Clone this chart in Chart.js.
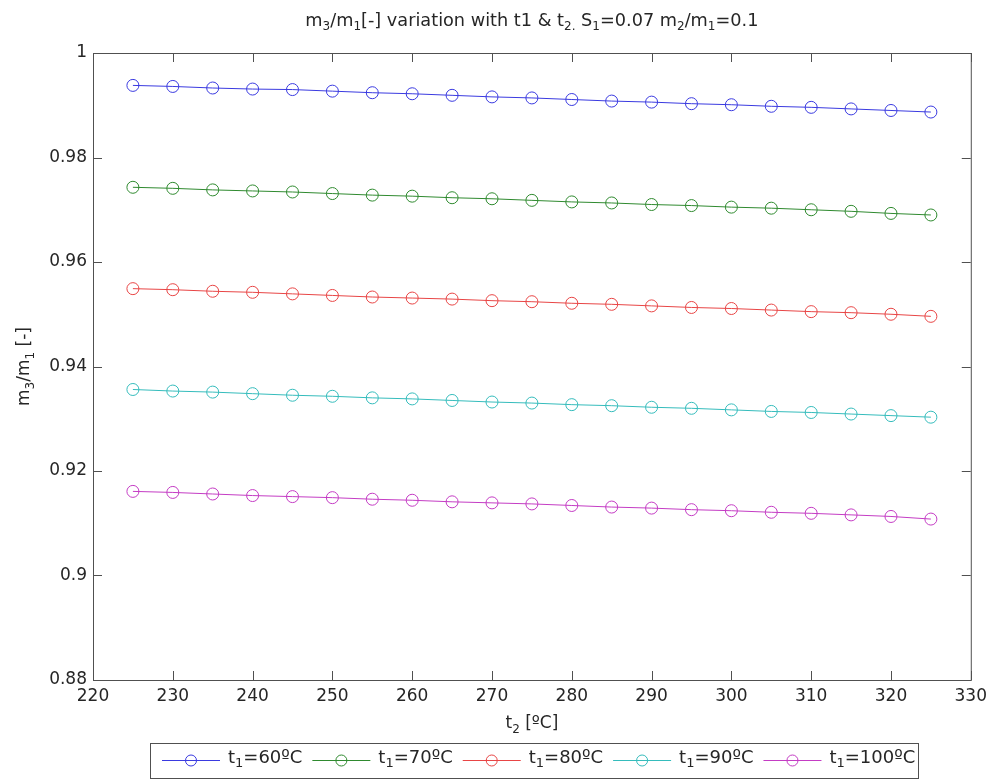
<!DOCTYPE html>
<html>
<head>
<meta charset="utf-8">
<script src="https://cdn.jsdelivr.net/npm/chart.js@4"></script>
<style>
  body { margin: 0; background: #fff; }
  canvas { display: block; }
</style>
</head>
<body>
<canvas id="chart" width="993" height="782"></canvas>
<script>
const T2 = [225, 230, 235, 240, 245, 250, 255, 260, 265, 270, 275, 280, 285, 290, 295, 300, 305, 310, 315, 320, 325];

const T1_60 = [0.9938, 0.9936, 0.9933, 0.9931, 0.9930, 0.9927, 0.9924, 0.9922, 0.9919, 0.9916, 0.9914, 0.9911, 0.9908, 0.9906, 0.9903, 0.9901, 0.9898, 0.9896, 0.9893, 0.9890, 0.9887];
const T1_70 = [0.9743, 0.9741, 0.9738, 0.9736, 0.9734, 0.9731, 0.9728, 0.9726, 0.9723, 0.9721, 0.9718, 0.9715, 0.9713, 0.9710, 0.9708, 0.9705, 0.9703, 0.9700, 0.9697, 0.9693, 0.9690];
const T1_80 = [0.9549, 0.9547, 0.9544, 0.9542, 0.9539, 0.9536, 0.9533, 0.9531, 0.9529, 0.9526, 0.9524, 0.9521, 0.9519, 0.9516, 0.9513, 0.9511, 0.9508, 0.9505, 0.9503, 0.9500, 0.9496];
const T1_90 = [0.9356, 0.9353, 0.9351, 0.9348, 0.9345, 0.9343, 0.9340, 0.9338, 0.9335, 0.9332, 0.9330, 0.9327, 0.9325, 0.9322, 0.9320, 0.9317, 0.9314, 0.9312, 0.9309, 0.9306, 0.9303];
const T1_100 = [0.9161, 0.9159, 0.9156, 0.9153, 0.9151, 0.9149, 0.9146, 0.9144, 0.9141, 0.9139, 0.9137, 0.9134, 0.9131, 0.9129, 0.9126, 0.9124, 0.9121, 0.9119, 0.9116, 0.9113, 0.9108];

const SERIES_NAMES = ['60ºC', '70ºC', '80ºC', '90ºC', '100ºC'];
const SERIES_VALUES = [T1_60, T1_70, T1_80, T1_90, T1_100];
const COLORS = ['#3a3ae0', '#2f8a2f', '#e84545', '#35bcbc', '#c43cc4'];

const X_TICKS = [220, 230, 240, 250, 260, 270, 280, 290, 300, 310, 320, 330];
const Y_TICKS = [0.88, 0.9, 0.92, 0.94, 0.96, 0.98, 1];

const FONT = 'DejaVu Sans';
const AXIS_COLOR = '#505050';
const TEXT_COLOR = '#262626';

// draws text with subscripts: parts = [[text, isSub], ...]
function richWidth(ctx, parts, size) {
  let w = 0;
  parts.forEach(([t, sub]) => {
    ctx.font = `${sub ? Math.round(size * 0.7) : size}px "${FONT}"`;
    w += ctx.measureText(t).width;
  });
  return w;
}

function drawRich(ctx, parts, x, y, size, align) {
  const w = richWidth(ctx, parts, size);
  let cx = align === 'center' ? x - w / 2 : x;
  ctx.textBaseline = 'middle';
  ctx.textAlign = 'left';
  ctx.fillStyle = TEXT_COLOR;
  parts.forEach(([t, sub]) => {
    ctx.font = `${sub ? Math.round(size * 0.7) : size}px "${FONT}"`;
    ctx.fillText(t, cx, sub ? y + size * 0.32 : y);
    cx += ctx.measureText(t).width;
  });
  return cx;
}

const matlabFrame = {
  id: 'matlabFrame',
  afterDraw(chart) {
    const { ctx, chartArea: a, scales: { x, y } } = chart;
    ctx.save();
    ctx.strokeStyle = AXIS_COLOR;
    ctx.lineWidth = 1;
    ctx.strokeRect(a.left + 0.5, a.top + 0.5, a.right - a.left, a.bottom - a.top);

    // inward ticks on all four sides
    ctx.beginPath();
    X_TICKS.forEach(v => {
      const px = Math.round(x.getPixelForValue(v)) + 0.5;
      ctx.moveTo(px, a.bottom); ctx.lineTo(px, a.bottom - 9);
      ctx.moveTo(px, a.top); ctx.lineTo(px, a.top + 9);
    });
    Y_TICKS.forEach(v => {
      const py = Math.round(y.getPixelForValue(v)) + 0.5;
      ctx.moveTo(a.left, py); ctx.lineTo(a.left + 9, py);
      ctx.moveTo(a.right, py); ctx.lineTo(a.right - 9, py);
    });
    ctx.stroke();

    // title
    drawRich(ctx, [['m', 0], ['3', 1], ['/m', 0], ['1', 1], ['[-] variation with t1 & t', 0], ['2.', 1],
      [' S', 0], ['1', 1], ['=0.07 m', 0], ['2', 1], ['/m', 0], ['1', 1], ['=0.1', 0]],
      (a.left + a.right) / 2, 21, 17.7, 'center');

    // x axis label
    drawRich(ctx, [['t', 0], ['2', 1], [' [ºC]', 0]], (a.left + a.right) / 2, 724, 17, 'center');

    // y axis label
    ctx.save();
    ctx.translate(25, (a.top + a.bottom) / 2);
    ctx.rotate(-Math.PI / 2);
    drawRich(ctx, [['m', 0], ['3', 1], ['/m', 0], ['1', 1], [' [-]', 0]], 0, 0, 17, 'center');
    ctx.restore();

    // legend box
    const boxL = 150, boxT = 743, boxR = 918, boxB = 778, midY = 760;
    ctx.fillStyle = '#fff';
    ctx.fillRect(boxL, boxT, boxR - boxL, boxB - boxT);
    ctx.strokeStyle = AXIS_COLOR;
    ctx.strokeRect(boxL + 0.5, boxT + 0.5, boxR - boxL, boxB - boxT);
    let lx = 162;
    SERIES_NAMES.forEach((name, i) => {
      ctx.strokeStyle = COLORS[i];
      ctx.lineWidth = 1;
      ctx.beginPath();
      ctx.moveTo(lx, midY + 0.5); ctx.lineTo(lx + 58, midY + 0.5);
      ctx.stroke();
      ctx.beginPath();
      ctx.arc(lx + 29, midY + 0.5, 5.5, 0, Math.PI * 2);
      ctx.stroke();
      const end = drawRich(ctx, [['t', 0], ['1', 1], ['=' + name, 0]], lx + 66, midY - 2, 18, 'left');
      lx = end + 10;
    });
    ctx.restore();
  }
};

const datasets = SERIES_VALUES.map((vals, i) => ({
  label: 't1=' + SERIES_NAMES[i],
  data: T2.map((t, j) => ({ x: t, y: vals[j] })),
  borderColor: COLORS[i],
  backgroundColor: 'transparent',
  borderWidth: 1,
  pointStyle: 'circle',
  pointRadius: 6,
  pointBorderWidth: 1,
  pointBackgroundColor: 'transparent',
  pointBorderColor: COLORS[i],
  tension: 0
}));

new Chart(document.getElementById('chart').getContext('2d'), {
  type: 'line',
  data: { datasets },
  plugins: [matlabFrame],
  options: {
    responsive: false,
    animation: false,
    layout: { padding: { left: 0, right: 20, top: 53, bottom: 0 } },
    plugins: { legend: { display: false }, title: { display: false }, tooltip: { enabled: false } },
    scales: {
      x: {
        type: 'linear',
        min: 220,
        max: 330,
        afterBuildTicks: s => { s.ticks = X_TICKS.map(v => ({ value: v })); },
        afterFit: s => { s.height = 102; },
        grid: { display: false, drawTicks: false },
        border: { display: false },
        ticks: { color: TEXT_COLOR, padding: 6, font: { family: FONT, size: 17 }, maxRotation: 0 }
      },
      y: {
        type: 'linear',
        min: 0.88,
        max: 1,
        afterBuildTicks: s => { s.ticks = Y_TICKS.map(v => ({ value: v })); },
        afterFit: s => { s.width = 93; },
        grid: { display: false, drawTicks: false },
        border: { display: false },
        ticks: {
          color: TEXT_COLOR, padding: 6, font: { family: FONT, size: 17 },
          callback: v => String(+v.toFixed(2))
        }
      }
    }
  }
});
</script>
</body>
</html>
